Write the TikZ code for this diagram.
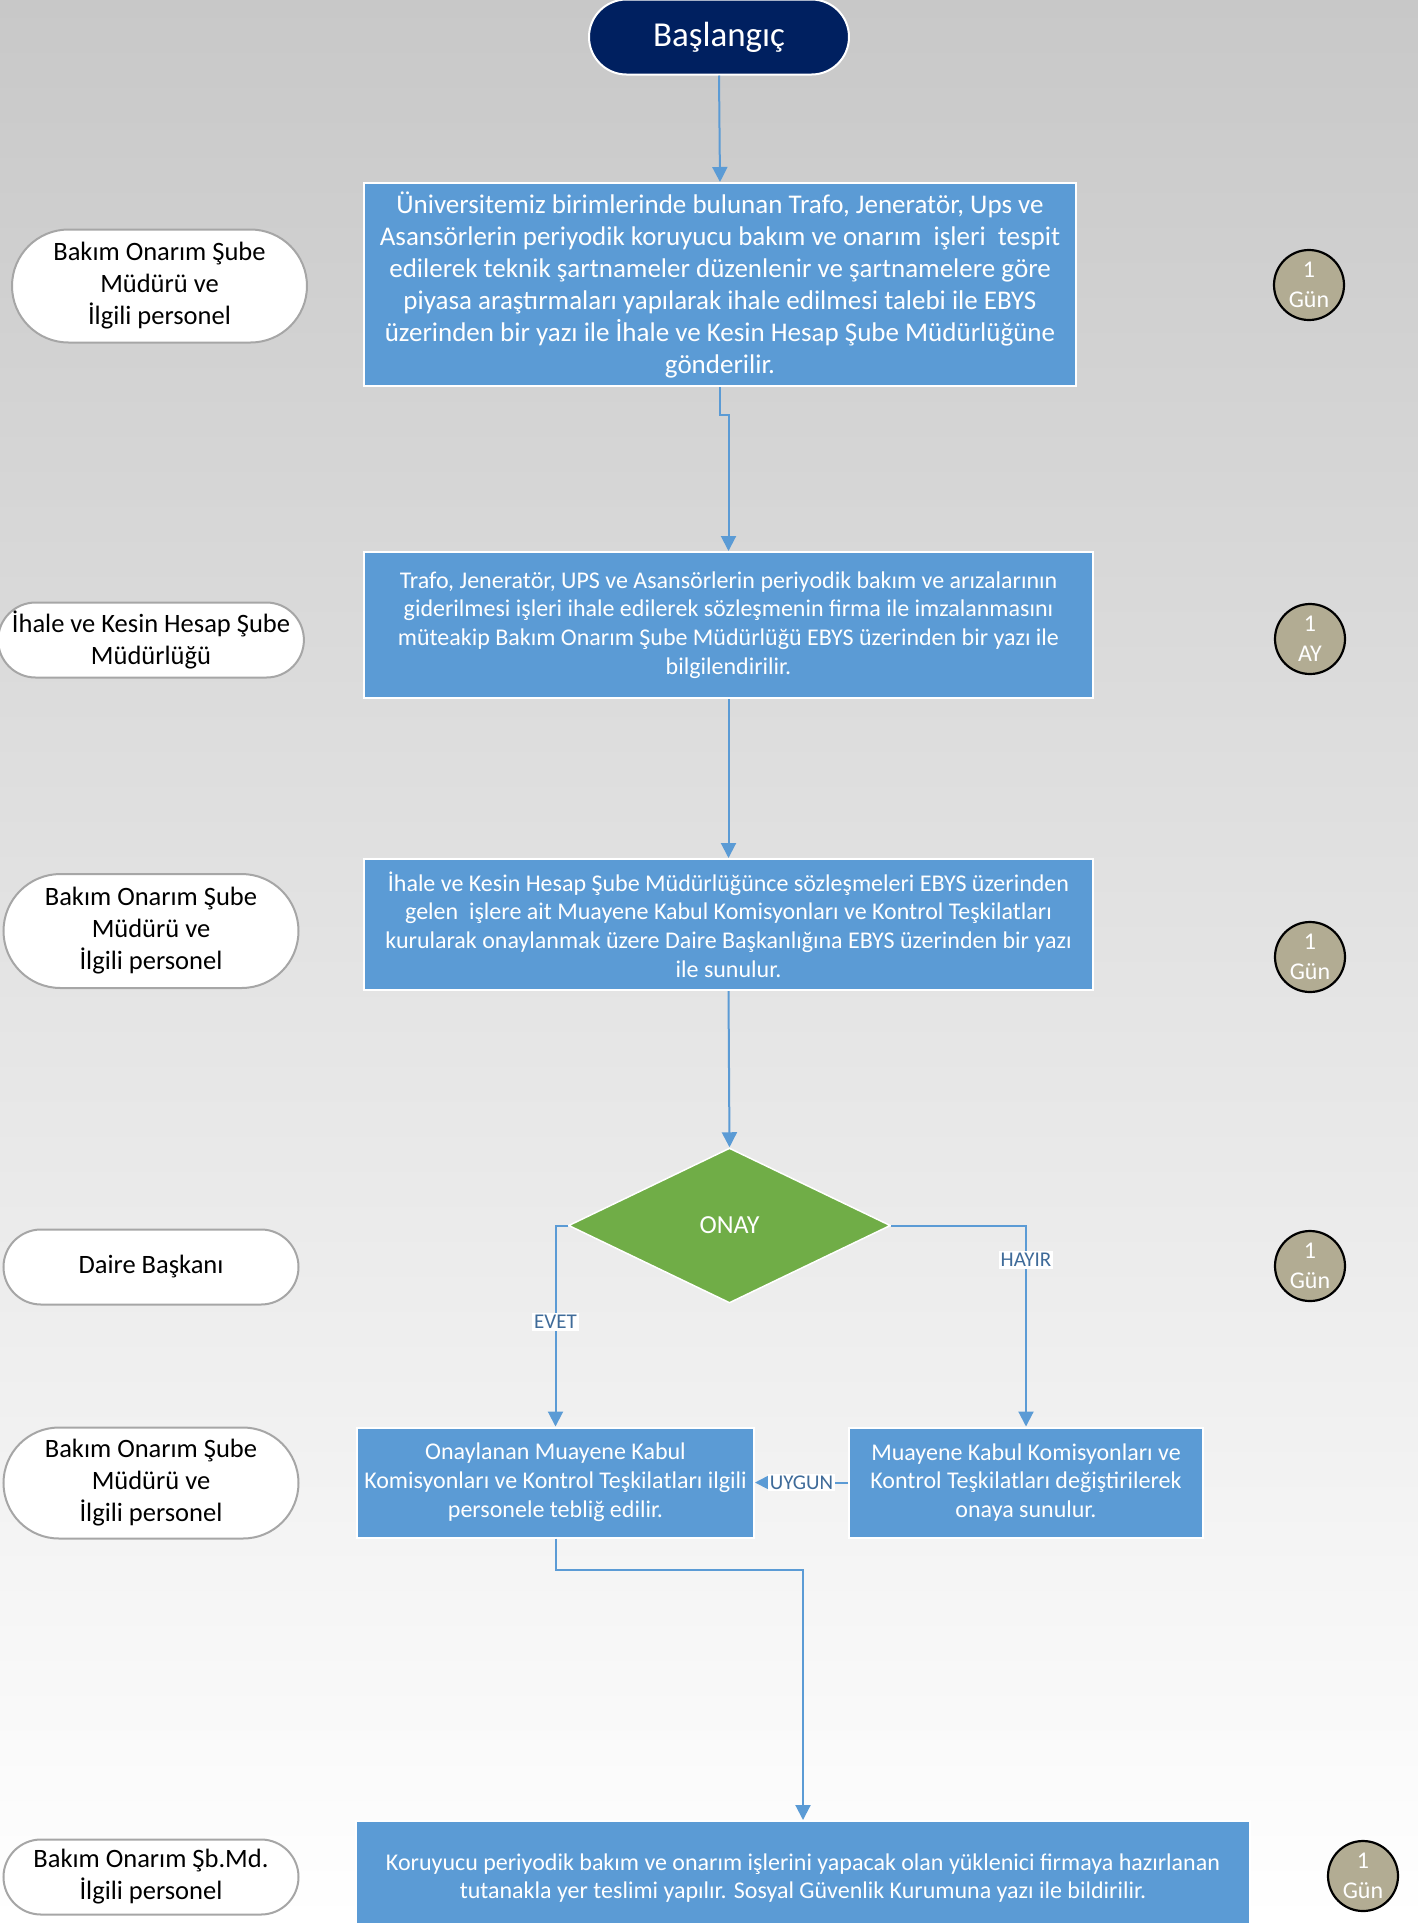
\documentclass[tikz,border=0pt]{standalone}
\usepackage{fontspec}
\setmainfont{Carlito}
\usetikzlibrary{shapes.geometric,shapes.misc,arrows.meta}
\definecolor{boxblue}{HTML}{5B9BD5}
\definecolor{navy}{HTML}{002060}
\definecolor{okgreen}{HTML}{70AD47}
\definecolor{daygray}{HTML}{B2AC93}
\definecolor{labelblue}{HTML}{3F6B99}
\definecolor{edgegray}{HTML}{A6A6A6}
\begin{document}
\begin{tikzpicture}[
        x=1pt, y=-1pt,
        every node/.style={align=center, inner sep=0pt, text centered},
        startn/.style={rounded rectangle, draw=white, line width=2pt, fill=navy, text=white,
            minimum width=260pt, minimum height=75pt, font=\fontsize{35}{40}\selectfont},
        bluebox/.style={rectangle, draw=white, line width=2pt, fill=boxblue, text=white,
            font=\fontsize{24}{28.8}\selectfont},
        bigbox/.style={bluebox, font=\fontsize{27}{32}\selectfont},
        decision/.style={diamond, draw=white, line width=1.5pt, fill=okgreen, text=white,
            minimum width=322pt, minimum height=155pt, font=\fontsize{26}{30}\selectfont},
        whon/.style={rounded rectangle, draw=edgegray, line width=2pt, fill=white,
            minimum width=295pt, font=\fontsize{26.5}{32}\selectfont},
        dayn/.style={circle, draw=black, line width=2.2pt, fill=daygray, text=white,
            minimum size=70pt, font=\fontsize{24}{30}\selectfont},
        answer/.style={fill=white, text=labelblue, inner sep=2pt, font=\fontsize{21}{23}\selectfont},
        line/.style={draw=boxblue, line width=2pt, -{Triangle[width=15pt,length=15pt]}},
    ]
    \useasboundingbox (0,0) rectangle (1418,1923);
    \clip (0,0) rectangle (1418,1923);
    \shade[top color={rgb,255:red,200;green,200;blue,200}, bottom color=white] (0,0) rectangle (1418,1923);

    \node[startn](start) at (719,37){Başlangıç};

    \node[bigbox, minimum width=712pt, minimum height=203pt](b1) at (720,284.5){Üniversitemiz birimlerinde bulunan Trafo, Jeneratör, Ups ve\\Asansörlerin periyodik koruyucu bakım ve onarım\ \ işleri\ \ tespit\\edilerek teknik şartnameler düzenlenir ve şartnamelere göre\\piyasa araştırmaları yapılarak ihale edilmesi talebi ile EBYS\\üzerinden bir yazı ile İhale ve Kesin Hesap Şube Müdürlüğüne\\gönderilir.};
    \node[bluebox, minimum width=729pt, minimum height=146pt](b2) at (728.5,625){Trafo, Jeneratör, UPS ve Asansörlerin periyodik bakım ve arızalarının\\giderilmesi işleri ihale edilerek sözleşmenin firma ile imzalanmasını\\müteakip Bakım Onarım Şube Müdürlüğü EBYS üzerinden bir yazı ile\\bilgilendirilir.};
    \node[bluebox, minimum width=729pt, minimum height=131pt](b3) at (728.5,924.5){İhale ve Kesin Hesap Şube Müdürlüğünce sözleşmeleri EBYS üzerinden\\gelen\ \ işlere ait Muayene Kabul Komisyonları ve Kontrol Teşkilatları\\kurularak onaylanmak üzere Daire Başkanlığına EBYS üzerinden bir yazı\\ile sunulur.};
    \node[decision](onay) at (729.5,1225.5){ONAY};
    \node[bluebox, minimum width=397pt, minimum height=110pt](b4) at (555.5,1482.5){Onaylanan Muayene Kabul\\Komisyonları ve Kontrol Teşkilatları ilgili\\personele tebliğ edilir.};
    \node[bluebox, minimum width=354pt, minimum height=110pt](b5) at (1026,1482.5){Muayene Kabul Komisyonları ve\\Kontrol Teşkilatları değiştirilerek\\onaya sunulur.};
    \node[bluebox, minimum width=894pt, minimum height=114pt](b6) at (803,1878){Koruyucu periyodik bakım ve onarım işlerini yapacak olan yüklenici firmaya hazırlanan\\tutanakla yer teslimi yapılır. Sosyal Güvenlik Kurumuna yazı ile bildirilir.};

    \node[whon, minimum height=113pt](w1) at (159.5,286){Bakım Onarım Şube\\Müdürü ve\\İlgili personel};
    \node[whon, minimum height=75pt](w2) at (151,640){İhale ve Kesin Hesap Şube\\Müdürlüğü};
    \node[whon, minimum height=114pt](w3) at (151,931){Bakım Onarım Şube\\Müdürü ve\\İlgili personel};
    \node[whon, minimum height=75pt](w4) at (151,1267){Daire Başkanı};
    \node[whon, minimum height=111pt](w5) at (151,1483){Bakım Onarım Şube\\Müdürü ve\\İlgili personel};
    \node[whon, minimum height=75pt](w6) at (151,1877){Bakım Onarım Şb.Md.\\İlgili personel};

    \node[dayn](g1) at (1309,285){1\\Gün};
    \node[dayn](g2) at (1310,639){1\\AY};
    \node[dayn](g3) at (1310,957){1\\Gün};
    \node[dayn](g4) at (1310,1266){1\\Gün};
    \node[dayn](g6) at (1363,1876){1\\Gün};

    \draw[line] (start.south) -- (b1.north);
    \draw[line] (b1.south) -- ++(0,28) -| (b2.north);
    \draw[line] (b2.south) -- (b3.north);
    \draw[line] (b3.south) -- (onay.north);
    \draw[line] (onay.west) -| node[answer, pos=0.74]{EVET} (b4.north);
    \draw[line] (onay.east) -| node[answer, pos=0.586]{HAYIR} (b5.north);
    \draw[line] (b5.west) -- node[answer]{UYGUN} (b4.east);
    \draw[line] (b4.south) -- ++(0,31) -| (b6.north);
\end{tikzpicture}
\end{document}
